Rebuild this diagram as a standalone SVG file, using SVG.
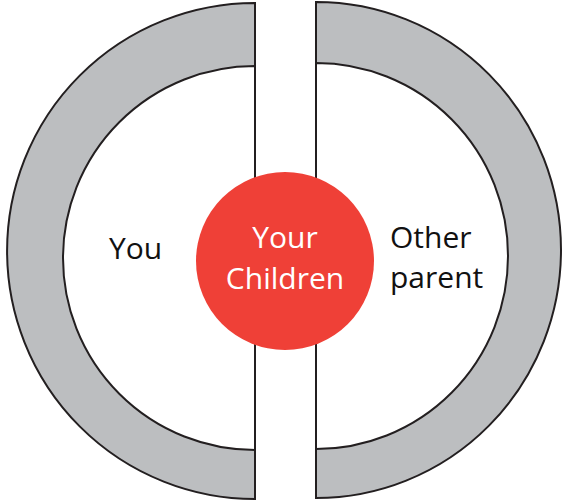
<svg xmlns="http://www.w3.org/2000/svg" width="565" height="501" viewBox="0 0 565 501">
<style>
.ring{fill:#bcbec0;stroke:#231f20;stroke-width:2}
.inner{fill:#ffffff;stroke:#231f20;stroke-width:2}
.lbl{font-family:"Open Sans","Noto Sans",sans-serif;font-size:30px;fill:#111111}
.clbl{font-family:"Open Sans","Noto Sans",sans-serif;font-size:30px;fill:#ffffff;text-anchor:middle}
</style>
<rect width="565" height="501" fill="#ffffff"/>
<g id="you">
<path class="ring" d="M255,3 A248,248 0 0 0 255,499 Z"/>
<path class="inner" d="M255,66 A192,192 0 0 0 255,450 Z"/>
<text class="lbl" x="109" y="259">You</text>
</g>
<g id="other-parent">
<path class="ring" d="M316,2 A245,248 0 0 1 316,498 Z"/>
<path class="inner" d="M316,63 A192,193 0 0 1 316,449 Z"/>
<text class="lbl" x="390" y="248">Other</text>
<text class="lbl" x="390" y="288">parent</text>
</g>
<g id="your-children">
<circle cx="285" cy="261" r="89" fill="#ef4037"/>
<text class="clbl" x="285" y="248">Your</text>
<text class="clbl" x="285" y="289">Children</text>
</g>
</svg>
